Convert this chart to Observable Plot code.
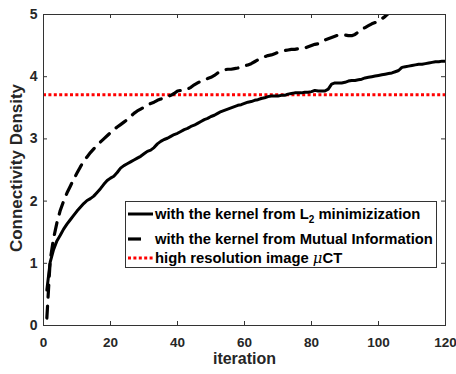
<!DOCTYPE html>
<html>
<head>
<meta charset="utf-8">
<script src="https://cdn.jsdelivr.net/npm/d3@7"></script>
<script src="https://cdn.jsdelivr.net/npm/@observablehq/plot@0.6"></script>
<style>
  body { margin: 0; background: #fff; }
  #wrap { position: relative; width: 456px; height: 374px; font-family: "Liberation Sans", Arial, sans-serif; }
  #legend { position: absolute; left: 125px; top: 201px; width: 310px; height: 65px; background: #fff; border: 1px solid #333; box-sizing: content-box; }
  #legend .row { position: absolute; left: 0; height: 20px; font-weight: bold; font-size: 14.8px; color: #000; white-space: nowrap; }
  #legend svg { position: absolute; left: 2px; top: 0; }
  #legend .txt { position: absolute; left: 29px; line-height: 20px; top: 0; }
  #ylab { position: absolute; left: 17px; top: 168px; transform: translate(-50%, -50%) rotate(-90deg); font-weight: bold; font-size: 17px; color: #262626; white-space: nowrap; }
</style>
</head>
<body>
<div id="wrap"></div>
<script>
// ---- data ----
const iterL2 = d3.range(1, 121);
const valL2 = [
  0.57, 1.02, 1.22, 1.36, 1.45, 1.55, 1.63, 1.70, 1.77, 1.84,
  1.90, 1.96, 2.01, 2.04, 2.08, 2.14, 2.20, 2.27, 2.33, 2.37,
  2.40, 2.46, 2.53, 2.57, 2.60, 2.63, 2.66, 2.69, 2.72, 2.76,
  2.80, 2.82, 2.86, 2.92, 2.96, 2.99, 3.01, 3.04, 3.07, 3.09,
  3.12, 3.15, 3.17, 3.20, 3.22, 3.25, 3.28, 3.31, 3.33, 3.36,
  3.38, 3.41, 3.44, 3.46, 3.48, 3.50, 3.52, 3.54, 3.55, 3.57,
  3.59, 3.60, 3.62, 3.63, 3.65, 3.66, 3.68, 3.69, 3.69, 3.69,
  3.70, 3.70, 3.72, 3.73, 3.74, 3.74, 3.74, 3.75, 3.75, 3.76,
  3.78, 3.77, 3.77, 3.77, 3.80, 3.88, 3.90, 3.90, 3.90, 3.91,
  3.93, 3.94, 3.94, 3.95, 3.96, 3.98, 3.99, 4.00, 4.01, 4.02,
  4.03, 4.04, 4.05, 4.06, 4.08, 4.10, 4.15, 4.16, 4.17, 4.18,
  4.19, 4.20, 4.20, 4.21, 4.22, 4.23, 4.24, 4.24, 4.25, 4.25
];
const iterMI = d3.range(1, 105);
const valMI = [
  0.12, 1.05, 1.40, 1.65, 1.85, 2.00, 2.13, 2.24, 2.35, 2.45,
  2.55, 2.64, 2.71, 2.78, 2.84, 2.90, 2.95, 3.00, 3.05, 3.10,
  3.15, 3.19, 3.23, 3.27, 3.31, 3.36, 3.41, 3.45, 3.48, 3.51,
  3.54, 3.57, 3.59, 3.62, 3.64, 3.66, 3.68, 3.70, 3.73, 3.77,
  3.78, 3.79, 3.80, 3.83, 3.87, 3.90, 3.93, 3.95, 3.97, 3.99,
  4.02, 4.06, 4.09, 4.11, 4.12, 4.12, 4.13, 4.14, 4.16, 4.17,
  4.19, 4.21, 4.24, 4.27, 4.30, 4.32, 4.34, 4.35, 4.37, 4.39,
  4.41, 4.42, 4.43, 4.44, 4.44, 4.45, 4.45, 4.46, 4.48, 4.50,
  4.52, 4.53, 4.56, 4.59, 4.61, 4.63, 4.65, 4.67, 4.67, 4.67,
  4.66, 4.66, 4.68, 4.72, 4.76, 4.79, 4.82, 4.85, 4.87, 4.89,
  4.93, 4.97, 5.02, 5.08
];
const refValue = 3.71;
const xTicks = [0, 20, 40, 60, 80, 100, 120];
const yTicks = [0, 1, 2, 3, 4, 5];
const xLabel = "iteration";
const yLabel = "Connectivity Density";
const legendLabels = [
  'with the kernel from L<sub style="font-size:10px;vertical-align:-4px">2</sub> minimizization',
  'with the kernel from Mutual Information',
  'high resolution image <i style="font-family:\'DejaVu Serif\',serif;font-weight:normal">&mu;</i>CT'
];

// ---- build ----
const l2 = iterL2.map((x, i) => ({x, y: valL2[i]}));
const mi = iterMI.map((x, i) => ({x, y: valMI[i]}));

const W = 456, H = 374;
const mL = 43, mR = 11, mT = 14, mB = 49;
const pw = W - mL - mR, ph = H - mT - mB;
const axisColor = "#333";

const chart = Plot.plot({
  width: W, height: H,
  marginLeft: mL, marginRight: mR, marginTop: mT, marginBottom: mB,
  style: {fontFamily: "Liberation Sans, Arial, sans-serif", fontWeight: "bold", fontSize: "14px", color: "#262626", background: "#fff", overflow: "visible"},
  x: {domain: [0, 120]},
  y: {domain: [0, 5]},
  marks: [
    Plot.ruleY([refValue], {stroke: "#ff0000", strokeWidth: 3, strokeDasharray: "3,2.4"}),
    Plot.line(l2, {x: "x", y: "y", stroke: "#000", strokeWidth: 3, clip: true}),
    Plot.line(mi, {x: "x", y: "y", stroke: "#000", strokeWidth: 3.2, strokeDasharray: "12,9", clip: true}),
    Plot.tickX(xTicks, {x: d => d, insetTop: ph - 4, stroke: axisColor}),
    Plot.tickX(xTicks, {x: d => d, insetBottom: ph - 4, stroke: axisColor}),
    Plot.tickY(yTicks, {y: d => d, insetRight: pw - 4, stroke: axisColor}),
    Plot.tickY(yTicks, {y: d => d, insetLeft: pw - 4, stroke: axisColor}),
    Plot.frame({stroke: axisColor, strokeWidth: 1}),
    Plot.axisX(xTicks, {tickSize: 0, tickPadding: 12, label: null, fontSize: 13.5, tickFormat: d => String(d)}),
    Plot.axisY(yTicks, {tickSize: 0, tickPadding: 6, label: null, fontSize: 14, tickFormat: d => String(d)}),
    Plot.text([xLabel], {frameAnchor: "bottom", dy: 38, fontSize: 16, fill: "#262626"})
  ]
});

const wrap = document.getElementById("wrap");
wrap.appendChild(chart);

const ylab = document.createElement("div");
ylab.id = "ylab";
ylab.textContent = yLabel;
wrap.appendChild(ylab);

// legend
const legend = document.createElement("div");
legend.id = "legend";
const rowTops = [2, 27, 46];
const samples = [
  '<line x1="0" y1="10" x2="25" y2="10" stroke="#000" stroke-width="3"/>',
  '<line x1="0" y1="10" x2="25" y2="10" stroke="#000" stroke-width="3.2" stroke-dasharray="13,12"/>',
  '<line x1="0" y1="10" x2="25" y2="10" stroke="#ff0000" stroke-width="3" stroke-dasharray="3,2.4"/>'
];
legendLabels.forEach((lab, i) => {
  const row = document.createElement("div");
  row.className = "row";
  row.style.top = rowTops[i] + "px";
  row.innerHTML = `<svg width="26" height="20">${samples[i]}</svg><span class="txt">${lab}</span>`;
  legend.appendChild(row);
});
wrap.appendChild(legend);
</script>
</body>
</html>
